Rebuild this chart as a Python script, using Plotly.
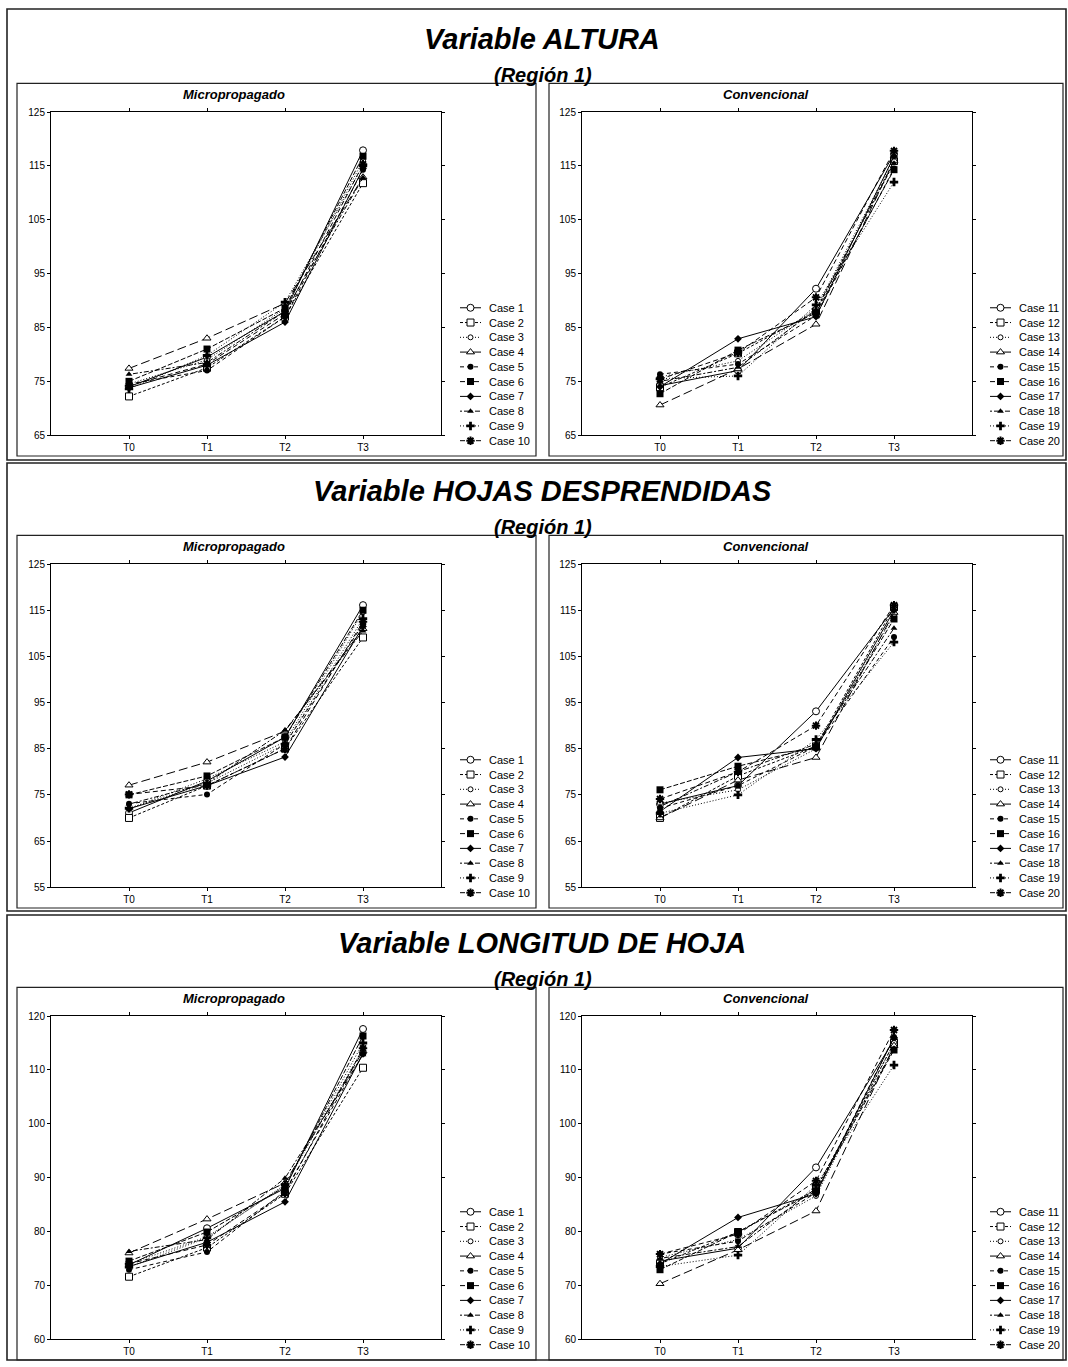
import plotly.graph_objects as go

W, H = 1068, 1367

# ---- data -------------------------------------------------------------
times = ["T0", "T1", "T2", "T3"]
tpos = [0, 1, 2, 3]

micro_cases = [f"Case {i}" for i in range(1, 11)]
conv_cases = [f"Case {i}" for i in range(11, 21)]

altura_micro = [
    [74.0, 79.5, 88.0, 117.9],
    [72.2, 77.5, 87.0, 111.8],
    [74.5, 79.0, 88.5, 116.0],
    [77.4, 83.0, 89.5, 112.9],
    [74.5, 77.0, 87.0, 114.3],
    [75.0, 81.0, 88.6, 116.8],
    [73.8, 78.0, 86.0, 114.5],
    [76.3, 78.5, 88.0, 112.8],
    [73.6, 79.8, 89.7, 115.0],
    [74.2, 78.2, 87.5, 115.3],
]
altura_conv = [
    [74.2, 77.0, 92.2, 117.2],
    [73.9, 80.2, 88.0, 115.9],
    [75.8, 78.8, 88.5, 116.5],
    [70.6, 77.3, 85.6, 116.0],
    [76.3, 78.2, 87.2, 114.5],
    [72.7, 80.8, 87.7, 114.3],
    [74.0, 82.9, 87.0, 116.8],
    [75.0, 77.6, 88.3, 115.5],
    [75.5, 76.0, 89.2, 112.0],
    [75.4, 80.3, 90.6, 117.8],
]
hojas_micro = [
    [71.1, 78.0, 87.5, 116.1],
    [70.0, 77.0, 85.0, 109.1],
    [72.0, 78.5, 86.5, 114.6],
    [77.1, 82.1, 88.8, 111.0],
    [73.1, 75.1, 86.0, 112.0],
    [75.0, 79.1, 87.5, 115.0],
    [72.0, 77.0, 83.2, 111.5],
    [73.0, 77.5, 89.0, 110.5],
    [72.1, 77.5, 86.0, 113.2],
    [75.1, 77.0, 85.0, 112.5],
]
hojas_conv = [
    [73.0, 77.0, 93.1, 115.4],
    [70.0, 79.1, 85.5, 115.7],
    [73.2, 76.1, 85.0, 114.0],
    [70.0, 78.2, 83.1, 114.5],
    [72.1, 77.0, 85.5, 109.2],
    [76.1, 81.2, 85.4, 113.1],
    [71.4, 83.1, 85.0, 115.0],
    [72.5, 80.0, 86.0, 111.1],
    [71.0, 75.0, 87.0, 108.1],
    [74.1, 80.0, 90.0, 116.1],
]
longitud_micro = [
    [73.8, 80.6, 88.0, 117.6],
    [71.6, 77.0, 87.0, 110.4],
    [74.0, 79.0, 88.5, 114.0],
    [76.0, 82.3, 89.0, 113.5],
    [72.9, 76.2, 87.5, 113.0],
    [74.5, 79.9, 88.3, 116.3],
    [73.5, 78.0, 85.5, 113.0],
    [76.3, 78.5, 89.9, 112.8],
    [73.4, 78.8, 88.7, 115.0],
    [74.0, 77.5, 87.2, 114.0],
]
longitud_conv = [
    [74.5, 76.9, 91.9, 115.6],
    [74.0, 79.9, 87.8, 115.0],
    [75.2, 78.5, 86.6, 115.1],
    [70.3, 76.6, 83.8, 114.5],
    [75.8, 78.2, 87.2, 116.1],
    [72.9, 79.9, 87.5, 113.7],
    [74.0, 82.6, 87.0, 116.0],
    [75.0, 77.2, 88.0, 114.0],
    [73.5, 75.6, 88.6, 110.9],
    [75.8, 79.5, 89.4, 117.4],
]

section_titles = ["Variable ALTURA", "Variable HOJAS DESPRENDIDAS", "Variable LONGITUD DE HOJA"]
region_label = "(Región 1)"
panel_titles = ["Micropropagado", "Convencional"]
y_ranges = [[65, 125], [55, 125], [60, 120]]
y_ticks = [
    [65, 75, 85, 95, 105, 115, 125],
    [55, 65, 75, 85, 95, 105, 115, 125],
    [60, 70, 80, 90, 100, 110, 120],
]
panels = [
    [altura_micro, altura_conv],
    [hojas_micro, hojas_conv],
    [longitud_micro, longitud_conv],
]

# ---- per-case styling (same for both groups) ---------------------------
symbols = ["circle", "square", "circle", "triangle-up", "circle",
           "square", "diamond", "triangle-up", "cross", "asterisk-open"]
fills = ["open", "open", "open", "open", "solid",
         "solid", "solid", "solid", "solid", "line"]
msizes = [7, 7, 5, 7, 6, 7, 6, 6, 7, 7]
dashes = ["solid", "3px,2px", "1px,2px", "9px,4px", "4px,3px",
          "5px,2px", "solid", "2px,2px,5px,2px", "1px,2px", "5px,3px"]

FONT = "Liberation Sans, Arial, sans-serif"


def marker_style(i):
    if fills[i] == "open":
        return dict(symbol=symbols[i], size=msizes[i], color="white",
                    line=dict(color="black", width=1))
    if fills[i] == "line":
        return dict(symbol=symbols[i], size=msizes[i], color="black",
                    line=dict(color="black", width=2))
    return dict(symbol=symbols[i], size=msizes[i], color="black",
                line=dict(color="black", width=0))


def px_x(px):
    return px / W


def px_y(py):
    return 1 - py / H


fig = go.Figure()
layout = dict(
    width=W, height=H, margin=dict(l=0, r=0, t=0, b=0),
    paper_bgcolor="white", plot_bgcolor="white", showlegend=False,
    font=dict(family=FONT, color="black", size=10),
)
annotations = []
shapes = []

STEP = 456  # vertical distance between the three blocks
section_boxes = [(3, 458), (461, 913), (917, 1366)]

for s in range(3):
    off = STEP * s
    # block frame
    top, bot = section_boxes[s]
    shapes.append(dict(type="rect", xref="paper", yref="paper",
                       x0=px_x(7), x1=px_x(1066), y0=px_y(bot), y1=px_y(top),
                       line=dict(color="#222", width=1.6)))
    # panel frames
    for bx0, bx1 in [(17, 536), (549, 1063)]:
        shapes.append(dict(type="rect", xref="paper", yref="paper",
                           x0=px_x(bx0), x1=px_x(bx1),
                           y0=px_y(min(454 + off, 1366)), y1=px_y(78 + off),
                           line=dict(color="#222", width=1.2)))
    annotations.append(dict(
        x=px_x(542), y=px_y(33 + off), xref="paper", yref="paper",
        text=f"<b><i>{section_titles[s]}</i></b>", showarrow=False,
        font=dict(size=29, family=FONT, color="black"),
        xanchor="center", yanchor="middle"))
    annotations.append(dict(
        x=px_x(543), y=px_y(70 + off), xref="paper", yref="paper",
        text=f"<b><i>{region_label}</i></b>", showarrow=False,
        font=dict(size=20, family=FONT, color="black"),
        xanchor="center", yanchor="middle"))

    for p in range(2):
        idx = s * 2 + p + 1
        left = 51 if p == 0 else 582
        xa, ya = f"x{idx}", f"y{idx}"
        layout[f"xaxis{idx}"] = dict(
            domain=[px_x(left), px_x(left + 390)], range=[-1, 4],
            tickvals=tpos, ticktext=times, anchor=ya,
            showline=True, mirror="ticks", linecolor="black", linewidth=1,
            ticks="outside", ticklen=3, tickcolor="black",
            showgrid=False, zeroline=False,
            tickfont=dict(size=10, family=FONT, color="black"))
        layout[f"yaxis{idx}"] = dict(
            domain=[px_y(433 + off), px_y(107 + off)], range=y_ranges[s],
            tickvals=y_ticks[s], anchor=xa,
            showline=True, mirror="ticks", linecolor="black", linewidth=1,
            ticks="outside", ticklen=3, tickcolor="black",
            showgrid=False, zeroline=False,
            tickfont=dict(size=10, family=FONT, color="black"))

        # panel title
        annotations.append(dict(
            x=px_x(234 if p == 0 else 766), y=px_y(89 + off),
            xref="paper", yref="paper",
            text=f"<b><i>{panel_titles[p]}</i></b>", showarrow=False,
            font=dict(size=13, family=FONT, color="black"),
            xanchor="center", yanchor="middle"))

        names = micro_cases if p == 0 else conv_cases
        for i, vals in enumerate(panels[s][p]):
            fig.add_trace(go.Scatter(
                x=tpos, y=vals, xaxis=xa, yaxis=ya, name=names[i],
                mode="lines+markers",
                line=dict(color="black", width=1, dash=dashes[i]),
                marker=marker_style(i), cliponaxis=False))

        # legend block drawn on its own hidden axes
        lid = idx + 6
        lx = 460 if p == 0 else 990
        layout[f"xaxis{lid}"] = dict(
            domain=[px_x(lx), px_x(lx + 21)], range=[0, 1],
            visible=False, anchor=f"y{lid}", fixedrange=True)
        layout[f"yaxis{lid}"] = dict(
            domain=[px_y(446 + off), px_y(297 + off)], range=[9.5, -0.5],
            visible=False, anchor=f"x{lid}", fixedrange=True)
        for i in range(10):
            fig.add_trace(go.Scatter(
                x=[0, 1], y=[i, i], xaxis=f"x{lid}", yaxis=f"y{lid}",
                mode="lines", line=dict(color="black", width=1, dash=dashes[i]),
                hoverinfo="skip"))
            fig.add_trace(go.Scatter(
                x=[0.5], y=[i], xaxis=f"x{lid}", yaxis=f"y{lid}",
                mode="markers", marker=marker_style(i), hoverinfo="skip"))
            annotations.append(dict(
                x=px_x(lx + 27), y=i, xref="paper", yref=f"y{lid}",
                text=names[i], showarrow=False,
                font=dict(size=11, family=FONT, color="black"),
                xanchor="left", yanchor="middle"))

layout["annotations"] = annotations
layout["shapes"] = shapes
fig.update_layout(**layout)
fig.write_html("out.html")
